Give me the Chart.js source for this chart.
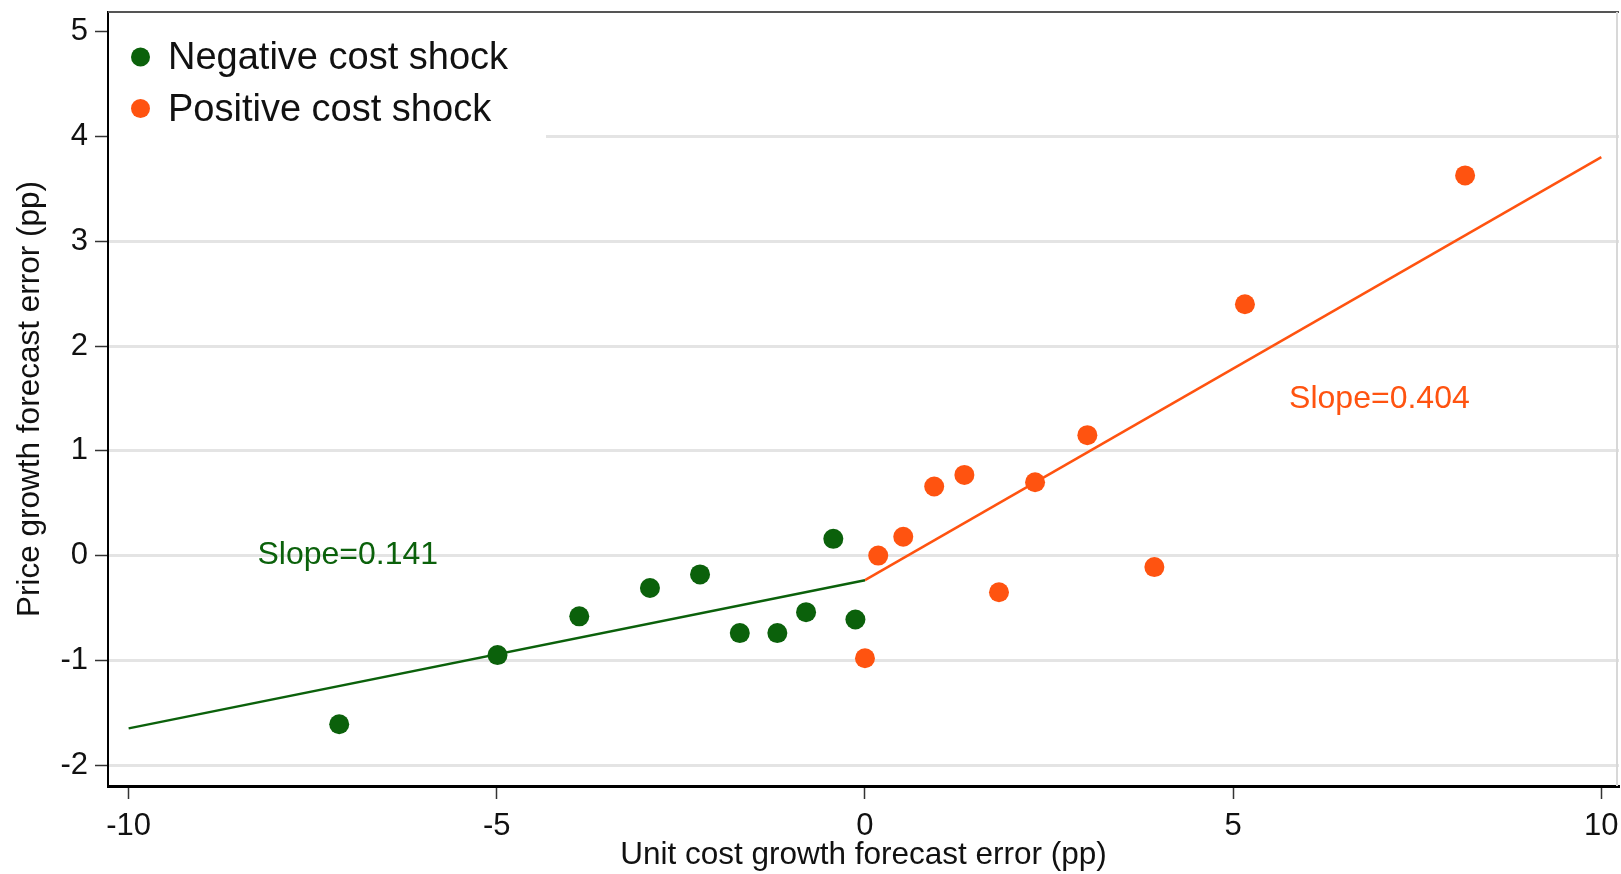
<!DOCTYPE html>
<html>
<head>
<meta charset="utf-8">
<script src="https://cdn.jsdelivr.net/npm/chart.js@4/dist/chart.umd.min.js"></script>
<style>
  html, body { margin: 0; padding: 0; background: #fff; overflow: hidden; }
  #wrap { width: 1621px; height: 874px; position: relative; }
  canvas { display: block; }
</style>
</head>
<body>
<div id="wrap"><canvas id="shockChart"></canvas></div>
<script>
// Data
const negX = [-7.14, -4.99, -3.88, -2.92, -2.24, -1.70, -1.19, -0.80, -0.43, -0.13];
const negY = [-1.61, -0.95, -0.58, -0.31, -0.18, -0.74, -0.74, -0.54, 0.16, -0.61];
const posX = [0.0, 0.18, 0.52, 0.94, 1.35, 1.82, 2.31, 3.02, 3.93, 5.16, 8.15];
const posY = [-0.98, 0.0, 0.18, 0.66, 0.77, -0.35, 0.70, 1.15, -0.11, 2.40, 3.63];

// Fitted lines (x, y at the ends)
const negFitX = [-10, 0];
const negFitY = [-1.65, -0.235];
const posFitX = [0, 10];
const posFitY = [-0.235, 3.805];

const seriesLabels = ['Negative cost shock', 'Positive cost shock'];
const slopeTexts = ['Slope=0.141', 'Slope=0.404'];
const slopeAtX = [-8.25, 5.76];
const slopeAtY = [0.0, 1.49];

const xTicks = [-10, -5, 0, 5, 10];
const yTicks = [-2, -1, 0, 1, 2, 3, 4, 5];

const green = '#0b610b';
const orange = '#ff5310';
const fontFamily = '"Liberation Sans", Arial, sans-serif';

const toPoints = (xs, ys) => xs.map((x, i) => ({ x, y: ys[i] }));

// Legend box + slope labels + frame
const extrasPlugin = {
  id: 'extras',
  beforeDatasetsDraw(chart) {
    const { ctx, chartArea } = chart;
    ctx.save();
    ctx.fillStyle = '#fff';
    ctx.fillRect(chartArea.left + 1, chartArea.top + 1, 545 - chartArea.left, 140 - chartArea.top);
    ctx.restore();
  },
  afterDraw(chart) {
    const { ctx, chartArea, scales } = chart;
    ctx.save();
    // legend
    const colors = [green, orange];
    const rows = [57, 108.5];
    ctx.font = '38px ' + fontFamily;
    ctx.textBaseline = 'middle';
    ctx.textAlign = 'left';
    seriesLabels.forEach((label, i) => {
      ctx.fillStyle = colors[i];
      ctx.beginPath();
      ctx.arc(140.5, rows[i], 9.5, 0, Math.PI * 2);
      ctx.fill();
      ctx.fillStyle = '#111';
      ctx.fillText(label, 168, rows[i] + 2);
    });
    // slope labels
    ctx.font = '32px ' + fontFamily;
    slopeTexts.forEach((t, i) => {
      ctx.fillStyle = colors[i];
      ctx.fillText(t, scales.x.getPixelForValue(slopeAtX[i]), scales.y.getPixelForValue(slopeAtY[i]));
    });
    // frame: top and right edges
    ctx.lineWidth = 2;
    ctx.strokeStyle = '#555';
    ctx.beginPath();
    ctx.moveTo(chartArea.left, chartArea.top);
    ctx.lineTo(chartArea.right, chartArea.top);
    ctx.stroke();
    ctx.strokeStyle = '#d8d8d8';
    ctx.beginPath();
    ctx.moveTo(chartArea.right - 2, chartArea.top);
    ctx.lineTo(chartArea.right - 2, chartArea.bottom);
    ctx.stroke();
    ctx.restore();
  }
};

const chartOptions = {
  type: 'scatter',
  data: {
    datasets: [
      {
        label: seriesLabels[0],
        data: toPoints(negX, negY),
        backgroundColor: green,
        borderWidth: 0,
        pointRadius: 10,
        pointHoverRadius: 10,
      },
      {
        label: seriesLabels[1],
        data: toPoints(posX, posY),
        backgroundColor: orange,
        borderWidth: 0,
        pointRadius: 10,
        pointHoverRadius: 10,
      },
      {
        label: 'neg fit',
        type: 'line',
        data: toPoints(negFitX, negFitY),
        borderColor: green,
        borderWidth: 2.5,
        pointRadius: 0,
        fill: false,
      },
      {
        label: 'pos fit',
        type: 'line',
        data: toPoints(posFitX, posFitY),
        borderColor: orange,
        borderWidth: 2.5,
        pointRadius: 0,
        fill: false,
      },
    ],
  },
  options: {
    responsive: true,
    maintainAspectRatio: false,
    animation: false,
    layout: {
      autoPadding: false,
      padding: { top: 12, right: 2, bottom: 0, left: 0 },
    },
    plugins: {
      legend: { display: false },
      tooltip: { enabled: false },
    },
    scales: {
      x: {
        type: 'linear',
        min: -10.28,
        max: 10.24,
        afterBuildTicks: scale => {
          scale.ticks = xTicks.map(value => ({ value }));
        },
        afterFit: scale => {
          scale.height = 88;
          scale.paddingLeft = 0;
          scale.paddingRight = 0;
        },
        border: { color: '#000', width: 3 },
        grid: {
          drawOnChartArea: false,
          drawTicks: true,
          tickLength: 13,
          tickColor: '#333',
          tickWidth: 1.5,
        },
        ticks: {
          color: '#111',
          padding: 9,
          maxRotation: 0,
          font: { family: fontFamily, size: 31 },
        },
        title: {
          display: true,
          text: 'Unit cost growth forecast error (pp)',
          color: '#111',
          padding: { top: 0, bottom: 0 },
          font: { family: fontFamily, size: 31.5 },
        },
      },
      y: {
        type: 'linear',
        min: -2.2,
        max: 5.19,
        afterBuildTicks: scale => {
          scale.ticks = yTicks.map(value => ({ value }));
        },
        afterFit: scale => {
          scale.width = 108;
          scale.paddingTop = 0;
          scale.paddingBottom = 0;
        },
        border: { color: '#000', width: 2 },
        grid: {
          color: c => (c.tick && c.tick.value === 5 ? 'rgba(0,0,0,0)' : '#e4e4e4'),
          lineWidth: 3,
          drawTicks: true,
          tickLength: 13,
          tickColor: '#333',
          tickWidth: 1.5,
        },
        ticks: {
          color: '#111',
          padding: 7,
          font: { family: fontFamily, size: 31 },
        },
        title: {
          display: true,
          text: 'Price growth forecast error (pp)',
          color: '#111',
          padding: { top: 11, bottom: 0 },
          font: { family: fontFamily, size: 31.5 },
        },
      },
    },
  },
  plugins: [extrasPlugin],
};

const ctx = document.getElementById('shockChart').getContext('2d');
const shockChart = new Chart(ctx, chartOptions);
</script>
</body>
</html>
